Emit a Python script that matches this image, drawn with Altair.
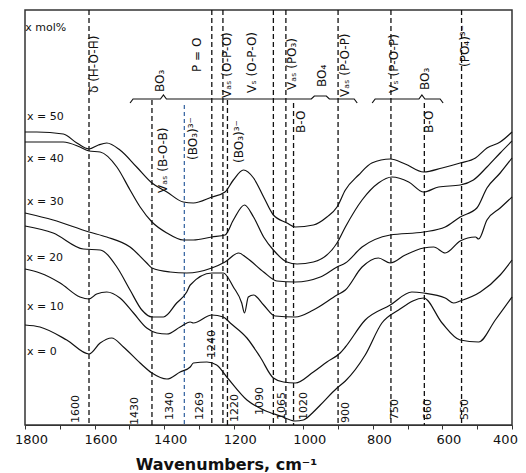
import altair as alt
import pandas as pd

# ---------------- spectra (wavenumber, relative transmittance, arbitrary units) --------------
wn_50 = [1800,1766,1690,1651,1616,1589,1565,1527,1479,1435,1392,1345,1316,1263,1225,1201,1172,1143,1114,1086,1047,1023,971,932,903,879,841,803,750,707,654,601,549,505,472,434,400]
t_50 = [293,293,291,282,276,280,282,275,258,242,233,223,222,228,233,245,255,247,228,210,202,198,200,208,218,235,250,262,266,261,253,257,262,267,277,283,293]

wn_40 = [1800,1690,1642,1616,1584,1536,1498,1469,1435,1392,1345,1316,1263,1225,1201,1169,1143,1114,1086,1047,1018,971,903,879,831,784,745,697,654,611,549,511,472,434,400]
t_40 = [283,283,278,274,273,258,235,218,203,192,185,185,188,190,205,220,208,188,175,163,161,163,182,198,225,242,248,243,233,238,240,245,258,272,284]

wn_30 = [1800,1719,1616,1565,1498,1450,1435,1383,1335,1263,1225,1186,1162,1114,1076,1023,951,903,879,831,750,654,592,549,501,472,434,400]
t_30 = [212,205,193,188,178,162,157,153,152,157,163,172,167,153,144,143,148,158,162,178,190,193,198,208,217,237,252,267]

wn_20 = [1800,1719,1632,1584,1536,1498,1464,1435,1402,1364,1335,1325,1263,1230,1201,1177,1169,1158,1143,1114,1081,1023,971,903,879,831,784,750,707,654,625,592,549,505,496,472,434,400]
t_20 = [199,192,176,175,158,135,115,108,108,122,133,140,152,152,138,122,112,128,130,120,109,108,115,130,135,158,167,162,170,177,178,172,184,188,186,205,217,228]

wn_10 = [1800,1757,1699,1642,1616,1594,1565,1527,1488,1450,1421,1392,1354,1325,1316,1263,1230,1210,1162,1124,1086,1057,1023,971,932,894,879,822,750,688,654,592,568,549,491,434,400]
t_10 = [156,152,142,128,126,131,133,127,112,97,92,91,98,103,102,110,108,102,87,68,47,43,42,53,63,72,78,105,120,133,132,127,122,124,133,150,165]

wn_0 = [1800,1757,1680,1616,1584,1551,1517,1469,1435,1392,1354,1325,1316,1277,1249,1220,1162,1114,1066,1023,1000,971,951,903,879,822,774,726,654,601,549,496,448,400]
t_0 = [100,98,85,71,82,87,78,62,52,46,53,58,62,63,60,48,25,15,9,4,5,13,20,37,44,70,102,115,127,102,85,83,105,128]

series_names = ["x = 50", "x = 40", "x = 30", "x = 20", "x = 10", "x = 0"]
series_wn = [wn_50, wn_40, wn_30, wn_20, wn_10, wn_0]
series_t = [t_50, t_40, t_30, t_20, t_10, t_0]

# ---------------- band positions (dashed guide lines) ----------------
dash_wn = [1616, 1435, 1263, 1231, 1218, 1086, 1050, 1028, 900, 748, 652, 545]
dash_top = [415, 325, 415, 415, 325, 415, 415, 322, 415, 415, 322, 415]
blue_wn = [1342]
blue_top = [320]

# ---------------- assignment labels ----------------
top_txt = ["δ (H-O-H)", "BO₃", "P = O", "Vₐₛ (O-P-O)", "Vₛ (O-P-O)", "Vₐₛ (PO₃)",
           "BO₄", "Vₐₛ (P-O-P)", "Vₛ (P-O-P)", "BO₃", "(PO₄)³⁻"]
top_wn = [1602, 1412, 1306, 1220, 1148, 1033, 946, 879, 740, 649, 534]
top_y = [332, 333, 353, 327, 332, 335, 338, 328, 332, 335, 358]

mid_txt = ["Vₐₛ (B-O-B)", "(BO₃)³⁻", "(BO₃)³⁻", "B-O", "B-O"]
mid_wn = [1403, 1317, 1186, 1006, 638]
mid_y = [232, 265, 262, 292, 292]

num_txt = ["1600", "1430", "1340", "1269", "1240", "1220", "1090", "1065", "1020", "900", "750", "660", "550"]
num_wn = [1653, 1484, 1383, 1297, 1263, 1196, 1124, 1062, 999, 877, 736, 641, 534]
num_y = [2, 0, 5, 5, 67, 3, 10, 5, 5, 2, 5, 5, 5]

left_txt = ["x mol%", "x = 50", "x = 40", "x = 30", "x = 20", "x = 10", "x = 0"]
left_wn = [1799, 1794, 1794, 1794, 1796, 1794, 1794]
left_y = [397, 308, 266, 223, 167, 118, 73]

# brackets grouping the bands
brace_spans = [(1498, 845), (802, 598)]
brace_bumps = [(1402, 3), (951, 6), (659, 3)]
brace_level = 326

# ---------------- tables ----------------
rows = []
for name, w, t in zip(series_names, series_wn, series_t):
    for i, (a, b) in enumerate(zip(w, t)):
        rows.append({"s": name, "wn": a, "t": b, "i": i})
curves = pd.DataFrame(rows)

dashes = pd.DataFrame({"wn": dash_wn, "t": dash_top, "t0": [0] * len(dash_wn)})
blues = pd.DataFrame({"wn": blue_wn, "t": blue_top, "t0": [0] * len(blue_wn)})
tops = pd.DataFrame({"wn": top_wn, "t": top_y, "txt": top_txt})
mids = pd.DataFrame({"wn": mid_wn, "t": mid_y, "txt": mid_txt})
nums = pd.DataFrame({"wn": num_wn, "t": num_y, "txt": num_txt})
lefts = pd.DataFrame({"wn": left_wn, "t": left_y, "txt": left_txt})

k = 2.8767  # wavenumber units per screen pixel
brows = []
for sid, (s, e) in enumerate(brace_spans):
    pts = [(s, brace_level - 4), (s - 3 * k, brace_level)]
    for c, hw in brace_bumps:
        if e < c < s:
            if hw > 3:
                pts += [(c + (hw + 3) * k, brace_level), (c + hw * k, brace_level + 3),
                        (c - hw * k, brace_level + 3), (c - (hw + 3) * k, brace_level)]
            else:
                pts += [(c + 3 * k, brace_level), (c, brace_level + 4), (c - 3 * k, brace_level)]
    pts += [(e + 3 * k, brace_level), (e, brace_level - 4)]
    for i, (a, b) in enumerate(pts):
        brows.append({"seg": sid, "i": i, "wn": a, "t": b})
braces = pd.DataFrame(brows)

# ---------------- encodings ----------------
FONT = "DejaVu Sans"
xaxis = alt.Axis(
    values=list(range(400, 1801, 100)),
    labelExpr="datum.value % 200 == 0 ? datum.label : ''",
    format="d", grid=False, tickSize=4, tickColor="#333", domainColor="#333",
    domainWidth=1.2, labelFont=FONT, labelFontSize=13, labelColor="#111",
    labelPadding=4, labelOverlap=False, labelFlush=False,
    labelOffset={"condition": {"test": "datum.value == 400", "value": -7}, "value": 6},
    title="Wavenumbers, cm⁻¹", titleFont=FONT, titleFontSize=16,
    titleFontWeight="bold", titleColor="#111", titleX=201, titleY=44,
    titleBaseline="alphabetic", titleAlign="center",
)
xs = alt.Scale(domain=[400, 1800], reverse=True, nice=False, zero=False)
ys = alt.Scale(domain=[0, 415], nice=False, zero=False)
X = alt.X("wn:Q", scale=xs, axis=xaxis)
Y = alt.Y("t:Q", scale=ys, axis=None)

lines = alt.Chart(curves).mark_line(color="#111", strokeWidth=1.2, interpolate="monotone").encode(
    x=X, y=Y, detail="s:N", order="i:Q")

dash_layer = alt.Chart(dashes).mark_rule(color="#111", strokeWidth=1.3, strokeDash=[5, 3]).encode(
    x=X, y=Y, y2="t0:Q")
blue_layer = alt.Chart(blues).mark_rule(color="#2f5f9e", strokeWidth=1.2, strokeDash=[4, 3]).encode(
    x=X, y=Y, y2="t0:Q")

brace_layer = alt.Chart(braces).mark_line(color="#111", strokeWidth=1.2).encode(
    x=X, y=Y, detail="seg:N", order="i:Q")

top_layer = alt.Chart(tops).mark_text(angle=270, align="left", baseline="middle",
                                      font=FONT, fontSize=12, color="#111").encode(x=X, y=Y, text="txt:N")
mid_layer = alt.Chart(mids).mark_text(angle=270, align="left", baseline="middle",
                                      font=FONT, fontSize=12, color="#111").encode(x=X, y=Y, text="txt:N")
num_layer = alt.Chart(nums).mark_text(angle=270, align="left", baseline="middle",
                                      font=FONT, fontSize=11, color="#111").encode(x=X, y=Y, text="txt:N")
left_layer = alt.Chart(lefts).mark_text(align="left", baseline="middle",
                                        font=FONT, fontSize=11, color="#111").encode(x=X, y=Y, text="txt:N")

chart = alt.layer(
    dash_layer, blue_layer, lines, brace_layer, top_layer, mid_layer, num_layer, left_layer
).properties(
    width=487, height=415,
    autosize=alt.AutoSizeParams(type="none"),
    padding={"left": 17, "top": 2, "right": 6, "bottom": 48},
    background="white",
).configure_view(stroke="#333", strokeWidth=1.5)

chart.save("out.html", embed_options={"renderer": "svg", "actions": False})
